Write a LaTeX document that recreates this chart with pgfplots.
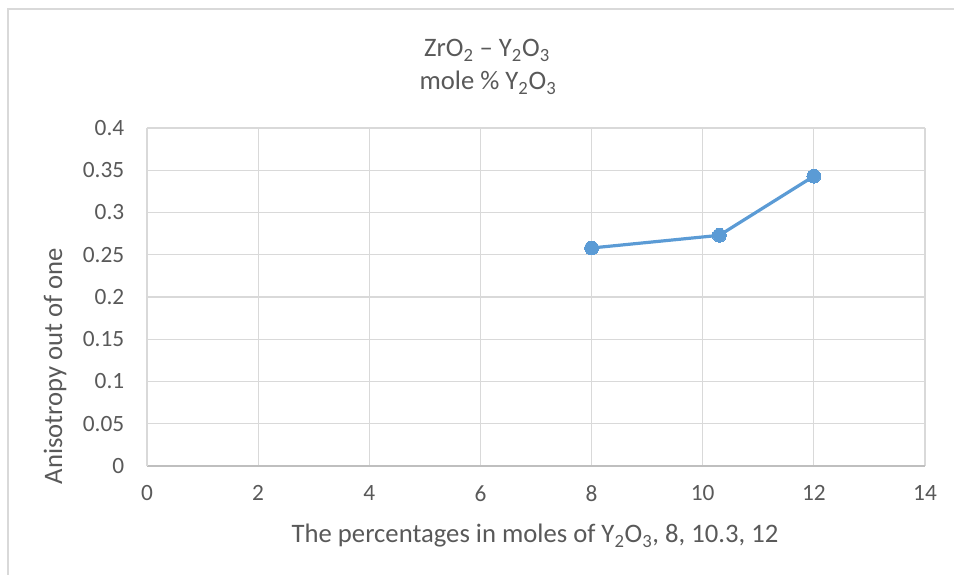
\documentclass[border=0pt]{standalone}
\usepackage{pgfplots}
\pgfplotsset{compat=1.18}
\usepackage{fontspec}
\setmainfont{Carlito}
\definecolor{txt}{HTML}{595959}
\definecolor{gridc}{HTML}{D9D9D9}
\definecolor{axc}{HTML}{BFBFBF}
\definecolor{ser}{HTML}{5B9BD5}
\begin{document}
\begin{tikzpicture}
% bounding box = 954x575 px, 1px = 0.75pt, origin at plot lower-left (147,466)
\path[use as bounding box] (-110.25pt,-81.75pt) rectangle (605.25pt,349.5pt);
\draw[gridc, line width=1.1pt] (-104.25pt,-81.75pt) -- (-104.25pt,342.75pt) -- (605.25pt,342.75pt);
\begin{axis}[
  at={(0,0)}, anchor=south west,
  scale only axis,
  width=583.5pt, height=253.5pt,
  xmin=0, xmax=14, ymin=0, ymax=0.4,
  xtick={0,2,...,14},
  ytick={0,0.05,...,0.4},
  yticklabels={0,0.05,0.1,0.15,0.2,0.25,0.3,0.35,0.4},
  scaled y ticks=false,
  grid=major,
  major grid style={gridc, line width=0.9pt},
  axis x line*=bottom,
  axis y line*=left,
  x axis line style={axc, line width=0.9pt, -},
  y axis line style={gridc, line width=0.9pt, -},
  tick style={draw=none},
  /pgf/number format/assume math mode=true,
  ticklabel style={font=\fontsize{17.5}{20}\selectfont, text=txt},
  xticklabel style={yshift=-11pt},
  yticklabel style={xshift=-13.5pt},
  clip=false,
]
\addplot[ser, line width=2.4pt, mark=*, mark size=5.2pt, mark options={fill=ser, draw=ser, line width=0pt}]
  coordinates {(8,0.258) (10.3,0.273) (12,0.343)};
\end{axis}
\node[anchor=base, text=txt, font=\fontsize{20}{24}\selectfont] at (255pt,306.75pt) {ZrO\textsubscript{2} – Y\textsubscript{2}O\textsubscript{3}};
\node[anchor=base, text=txt, font=\fontsize{20}{24}\selectfont] at (255.75pt,282pt) {mole \% Y\textsubscript{2}O\textsubscript{3}};
\node[anchor=base, text=txt, font=\fontsize{20}{24}\selectfont] at (291pt,-57.75pt) {The percentages in moles of Y\textsubscript{2}O\textsubscript{3}, 8, 10.3, 12};
\node[rotate=90, text=txt, font=\fontsize{20}{24}\selectfont] at (-69pt,75pt) {Anisotropy out of one};
\end{tikzpicture}
\end{document}
